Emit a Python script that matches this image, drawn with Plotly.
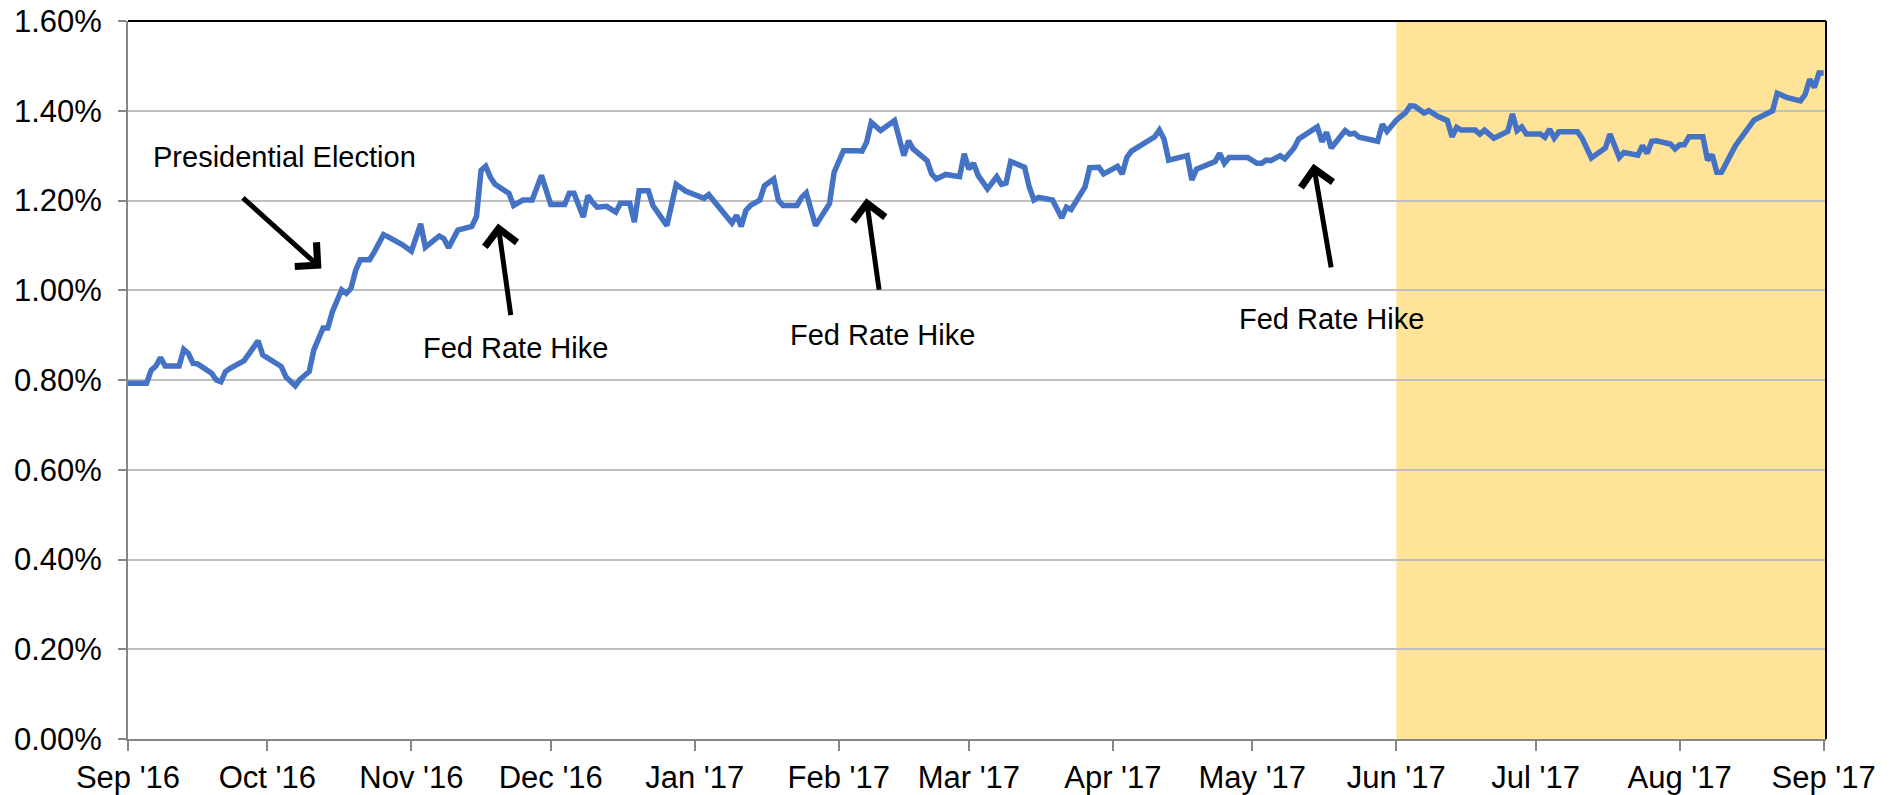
import plotly.graph_objects as go

# Trading-day vertices (yield, %)
dates = [
    "2016-09-01", "2016-09-05", "2016-09-06", "2016-09-07", "2016-09-08", "2016-09-09", "2016-09-12", "2016-09-13", "2016-09-14", "2016-09-15",
    "2016-09-16", "2016-09-19", "2016-09-20", "2016-09-21", "2016-09-22", "2016-09-23", "2016-09-26", "2016-09-27", "2016-09-29", "2016-09-30",
    "2016-10-02", "2016-10-04", "2016-10-05", "2016-10-07", "2016-10-08", "2016-10-10", "2016-10-11", "2016-10-12", "2016-10-13", "2016-10-14",
    "2016-10-15", "2016-10-17", "2016-10-18", "2016-10-19", "2016-10-20", "2016-10-21", "2016-10-23", "2016-10-24", "2016-10-26", "2016-10-27", "2016-10-30",
    "2016-11-01", "2016-11-03", "2016-11-04", "2016-11-07", "2016-11-08", "2016-11-09", "2016-11-11", "2016-11-14", "2016-11-15", "2016-11-16",
    "2016-11-17", "2016-11-18", "2016-11-19", "2016-11-22", "2016-11-23", "2016-11-25", "2016-11-27", "2016-11-29",
    "2016-12-01", "2016-12-04", "2016-12-05", "2016-12-06", "2016-12-08", "2016-12-09", "2016-12-10", "2016-12-11", "2016-12-13", "2016-12-15",
    "2016-12-16", "2016-12-18", "2016-12-19", "2016-12-20", "2016-12-22", "2016-12-23", "2016-12-26", "2016-12-28", "2016-12-30",
    "2017-01-01", "2017-01-03", "2017-01-04", "2017-01-05", "2017-01-09", "2017-01-10", "2017-01-11", "2017-01-12", "2017-01-13", "2017-01-15",
    "2017-01-16", "2017-01-18", "2017-01-19", "2017-01-20", "2017-01-23", "2017-01-24", "2017-01-25", "2017-01-27", "2017-01-30", "2017-01-31",
    "2017-02-02", "2017-02-05", "2017-02-06", "2017-02-07", "2017-02-08", "2017-02-10", "2017-02-13", "2017-02-15", "2017-02-16", "2017-02-17",
    "2017-02-20", "2017-02-21", "2017-02-22", "2017-02-24", "2017-02-27", "2017-02-28",
    "2017-03-01", "2017-03-02", "2017-03-03", "2017-03-05", "2017-03-07", "2017-03-08", "2017-03-09", "2017-03-10", "2017-03-13", "2017-03-14",
    "2017-03-15", "2017-03-16", "2017-03-19", "2017-03-21", "2017-03-22", "2017-03-23", "2017-03-26", "2017-03-27", "2017-03-29", "2017-03-30",
    "2017-04-02", "2017-04-03", "2017-04-04", "2017-04-05", "2017-04-09", "2017-04-10", "2017-04-11", "2017-04-12", "2017-04-13", "2017-04-17",
    "2017-04-18", "2017-04-19", "2017-04-23", "2017-04-24", "2017-04-25", "2017-04-26", "2017-04-30",
    "2017-05-02", "2017-05-03", "2017-05-04", "2017-05-05", "2017-05-07", "2017-05-08", "2017-05-10", "2017-05-11", "2017-05-15", "2017-05-16",
    "2017-05-17", "2017-05-18", "2017-05-21", "2017-05-22", "2017-05-23", "2017-05-24", "2017-05-28", "2017-05-29", "2017-05-30",
    "2017-06-01", "2017-06-03", "2017-06-04", "2017-06-05", "2017-06-07", "2017-06-08", "2017-06-10", "2017-06-12", "2017-06-13", "2017-06-14",
    "2017-06-15", "2017-06-18", "2017-06-19", "2017-06-20", "2017-06-22", "2017-06-25", "2017-06-26", "2017-06-27", "2017-06-28", "2017-06-29",
    "2017-07-02", "2017-07-03", "2017-07-04", "2017-07-05", "2017-07-06", "2017-07-10", "2017-07-11", "2017-07-12", "2017-07-13", "2017-07-16",
    "2017-07-17", "2017-07-19", "2017-07-20", "2017-07-23", "2017-07-24", "2017-07-25", "2017-07-26", "2017-07-27", "2017-07-30", "2017-07-31",
    "2017-08-01", "2017-08-02", "2017-08-03", "2017-08-06", "2017-08-07", "2017-08-08", "2017-08-09", "2017-08-10", "2017-08-13", "2017-08-17",
    "2017-08-21", "2017-08-22", "2017-08-24", "2017-08-27", "2017-08-28", "2017-08-29", "2017-08-30", "2017-08-31", "2017-09-01",
]

yields = [
    0.793, 0.793, 0.822, 0.831, 0.850, 0.831, 0.831, 0.868, 0.859, 0.837,
    0.836, 0.815, 0.800, 0.796, 0.819, 0.826, 0.843, 0.859, 0.887, 0.856,
    0.844, 0.830, 0.807, 0.787, 0.801, 0.819, 0.867, 0.896, 0.916, 0.916,
    0.952, 1.001, 0.993, 1.004, 1.044, 1.068, 1.068, 1.085, 1.124, 1.119, 1.102,
    1.087, 1.148, 1.096, 1.121, 1.115, 1.095, 1.134, 1.142, 1.164, 1.267,
    1.276, 1.252, 1.236, 1.216, 1.189, 1.201, 1.201, 1.256,
    1.191, 1.191, 1.216, 1.216, 1.163, 1.211, 1.196, 1.185, 1.187, 1.174,
    1.194, 1.194, 1.152, 1.222, 1.222, 1.189, 1.144, 1.236, 1.221,
    1.213, 1.205, 1.213, 1.200, 1.150, 1.167, 1.142, 1.178, 1.189, 1.201,
    1.233, 1.248, 1.200, 1.189, 1.189, 1.207, 1.217, 1.144, 1.193, 1.263,
    1.311, 1.311, 1.310, 1.330, 1.374, 1.356, 1.378, 1.300, 1.333, 1.315,
    1.289, 1.259, 1.248, 1.258, 1.253, 1.304,
    1.270, 1.283, 1.256, 1.226, 1.253, 1.236, 1.239, 1.287, 1.274, 1.230,
    1.201, 1.207, 1.201, 1.161, 1.185, 1.180, 1.230, 1.273, 1.274, 1.259,
    1.276, 1.259, 1.296, 1.310, 1.333, 1.342, 1.357, 1.337, 1.290, 1.300,
    1.246, 1.270, 1.287, 1.305, 1.283, 1.296, 1.296,
    1.283, 1.283, 1.290, 1.289, 1.300, 1.293, 1.317, 1.337, 1.364, 1.331,
    1.352, 1.317, 1.356, 1.348, 1.350, 1.341, 1.332, 1.370, 1.354,
    1.379, 1.396, 1.411, 1.410, 1.395, 1.400, 1.387, 1.378, 1.342, 1.363,
    1.357, 1.357, 1.348, 1.357, 1.339, 1.354, 1.393, 1.356, 1.364, 1.348,
    1.348, 1.341, 1.359, 1.339, 1.353, 1.353, 1.339, 1.320, 1.295, 1.317,
    1.348, 1.296, 1.307, 1.301, 1.322, 1.305, 1.332, 1.333, 1.326, 1.315,
    1.324, 1.324, 1.342, 1.342, 1.290, 1.302, 1.263, 1.263, 1.322, 1.379,
    1.400, 1.439, 1.430, 1.422, 1.436, 1.470, 1.452, 1.484, 1.484,
]

y_ticks = [0.0, 0.2, 0.4, 0.6, 0.8, 1.0, 1.2, 1.4, 1.6]
highlight_start = "2017-06-01"
x_start = "2016-09-01"
x_end = "2017-09-01 12:00"

event_labels = ["Presidential Election", "Fed Rate Hike", "Fed Rate Hike", "Fed Rate Hike"]

FONT = "Liberation Sans, Arial, sans-serif"

fig = go.Figure()
fig.add_trace(go.Scatter(
    x=dates, y=yields, mode="lines",
    line=dict(color="#4472C4", width=5.5),
    hoverinfo="x+y", showlegend=False,
))

# Shaded recent period
fig.add_shape(type="rect", xref="x", yref="paper", x0=highlight_start, x1=x_end,
              y0=0, y1=1, fillcolor="#FEE398", line=dict(width=0), layer="below")
# Top and right plot-area borders
fig.add_shape(type="line", xref="paper", yref="paper", x0=0, x1=1, y0=1, y1=1,
              line=dict(color="black", width=2))
fig.add_shape(type="line", xref="paper", yref="paper", x0=1, x1=1, y0=0, y1=1,
              line=dict(color="black", width=2))

# Text labels
text_pos = [(0.0133, 0.8106, "left"), (0.2282, 0.5452, "center"),
            (0.4445, 0.5631, "center"), (0.7088, 0.5851, "center")]
for lbl, (px, py, xa) in zip(event_labels, text_pos):
    fig.add_annotation(x=px, y=py, xref="paper", yref="paper", text=lbl,
                       showarrow=False, xanchor=xa, yanchor="middle",
                       font=dict(family=FONT, size=29, color="black"))

# Arrows (tip in paper coords, tail as pixel offsets)
arrows = [(0.1139, 0.6552, -80, -72), (0.2179, 0.7178, 13, 93),
          (0.4348, 0.7531, 13, 93), (0.6981, 0.8011, 18, 105)]
for tx, ty, ax, ay in arrows:
    fig.add_annotation(x=tx, y=ty, xref="paper", yref="paper", text="",
                       showarrow=True, ax=ax, ay=ay, arrowhead=4,
                       arrowsize=1.25, arrowwidth=5, arrowcolor="black")

fig.update_layout(
    width=1900, height=795,
    margin=dict(l=128, r=74, t=21, b=56),
    paper_bgcolor="white", plot_bgcolor="white",
    font=dict(family=FONT, size=31, color="black"),
    showlegend=False,
)
fig.update_xaxes(
    type="date", range=[x_start, x_end], automargin=False,
    tick0="2016-09-01", dtick="M1", tickformat="%b '%y",
    ticks="outside", ticklen=10, tickwidth=2, tickcolor="#868686",
    showline=True, linecolor="#868686", linewidth=2,
    showgrid=False, zeroline=False,
    tickfont=dict(family=FONT, size=31, color="black"),
)
fig.update_yaxes(
    range=[0, 1.6], tickvals=y_ticks, automargin=False,
    ticktext=[f"{v:.2f}%" for v in y_ticks],
    ticks="outside", ticklen=8, tickwidth=2, tickcolor="#868686",
    ticklabelstandoff=10,
    showline=True, linecolor="#868686", linewidth=2,
    showgrid=True, gridcolor="#BFBFBF", gridwidth=1.5, zeroline=False,
    tickfont=dict(family=FONT, size=31, color="black"),
)

fig.write_html(
    "out.html",
    config={"displayModeBar": False},
    post_script="document.body.style.margin='0px';document.body.style.overflow='hidden';",
)
